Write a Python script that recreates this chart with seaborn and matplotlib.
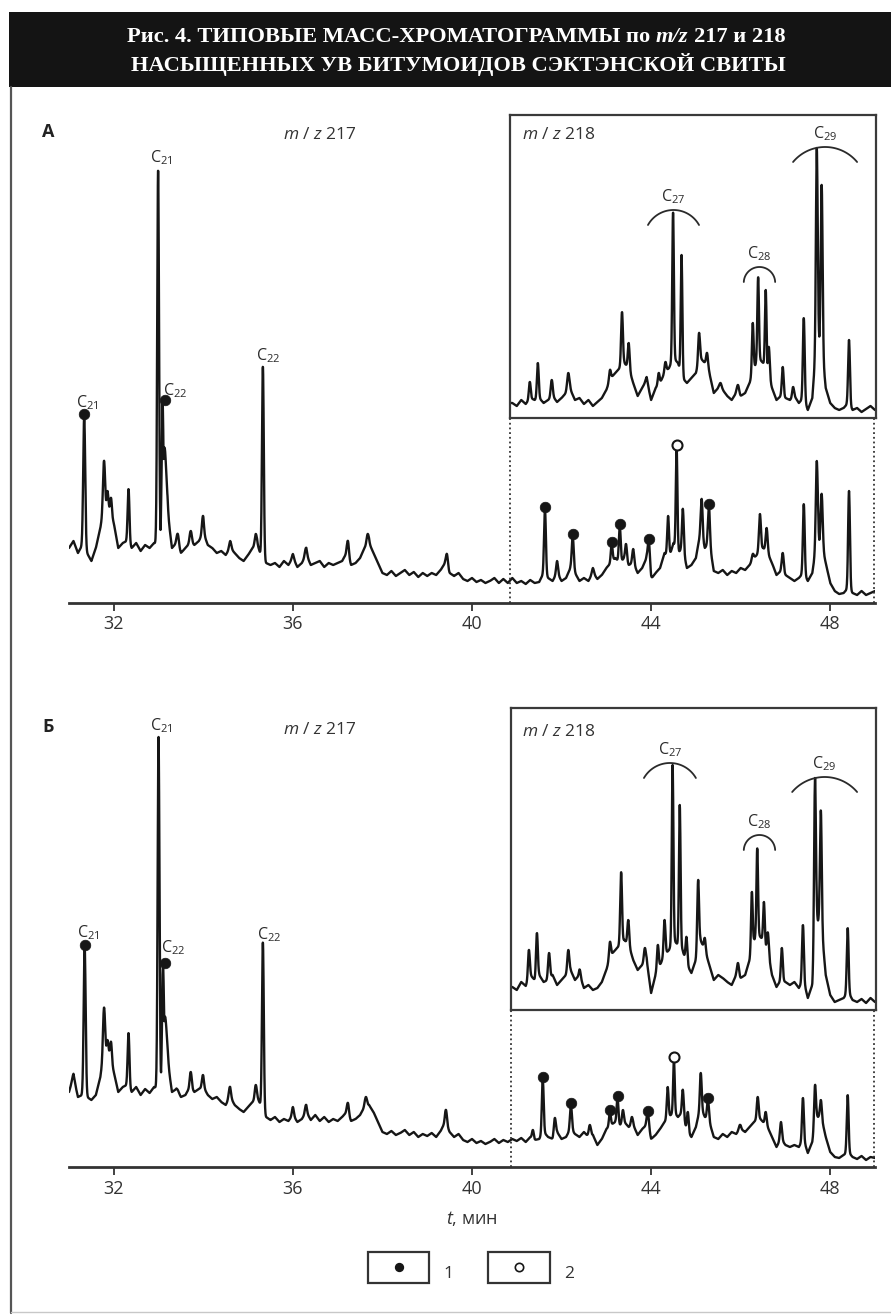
import numpy as np
import pandas as pd
import matplotlib
matplotlib.use("Agg")
import matplotlib.pyplot as plt
from matplotlib.patches import Rectangle
from matplotlib.lines import Line2D
import seaborn as sns

# ---------------------------------------------------------------- data
x_ticks = [32, 36, 40, 44, 48]
x_label = "$t$, мин"
title_1 = ["Рис. 4. ТИПОВЫЕ МАСС-ХРОМАТОГРАММЫ по", "m/z", "217 и 218"]
title_2 = "НАСЫЩЕННЫХ УВ БИТУМОИДОВ СЭКТЭНСКОЙ СВИТЫ"
panel_names = ["А", "Б"]
main_ion = "$m$ / $z$ 217"
inset_ion = "$m$ / $z$ 218"
legend_labels = ["1", "2"]

# time grids (min) on which the baseline levels were read
grid_main = np.round(np.arange(31.0, 49.0 + 1e-9, 0.1), 1)
grid_ins = np.round(np.arange(40.8, 49.0 + 1e-9, 0.1), 1)

# --- panel A, m/z 217: baseline level every 0.1 min (31.0 ... 49.0)
base_A217 = [
    55, 62, 50, 58, 50, 42, 55, 75, 100, 95,
    80, 55, 60, 62, 55, 60, 52, 58, 55, 60,
    58, 70, 90, 55, 60, 50, 55, 60, 58, 62,
    70, 58, 55, 50, 52, 48, 55, 50, 45, 42,
    48, 55, 60, 45, 40, 38, 40, 36, 42, 38,
    45, 36, 40, 48, 38, 40, 42, 36, 40, 38,
    40, 42, 50, 38, 40, 45, 55, 60, 50, 40,
    30, 28, 32, 27, 30, 33, 28, 31, 26, 30,
    27, 30, 28, 33, 40, 30, 27, 30, 24, 22,
    25, 21, 23, 20, 22, 25, 20, 24, 20, 25,
    20, 22, 19, 23, 20, 21, 30, 25, 22, 30,
    22, 25, 35, 30, 22, 25, 22, 30, 24, 28,
    35, 40, 45, 40, 45, 38, 40, 30, 35, 45,
    24, 30, 35, 50, 45, 60, 50, 55, 35, 38,
    45, 70, 55, 60, 32, 30, 33, 28, 32, 30,
    35, 33, 38, 45, 50, 55, 50, 40, 28, 32,
    28, 25, 22, 25, 30, 22, 30, 60, 60, 40,
    20, 12, 9, 10, 15, 10, 8, 12, 8, 10,
    12,
]
# peaks: (time, apex intensity, width)
peaks_A217 = [
    (31.34, 187, .022), (31.78, 142, .022), (31.86, 112, .018), (31.94, 105, .018),
    (32.33, 114, .020), (32.99, 434, .020), (33.09, 200, .020), (33.13, 155, .040),
    (33.43, 69, .025), (33.72, 72, .025), (33.99, 87, .022), (34.60, 62, .025),
    (35.17, 69, .022), (35.33, 237, .020), (36.00, 49, .025), (36.29, 55, .025),
    (37.23, 62, .022), (37.67, 69, .025), (39.44, 49, .022), (41.63, 94, .020),
    (41.90, 42, .022), (42.25, 67, .022), (42.70, 35, .025), (43.12, 59, .020),
    (43.30, 77, .020), (43.44, 59, .020), (43.60, 54, .022), (43.95, 62, .025),
    (44.38, 87, .020), (44.57, 155, .018), (44.71, 94, .020), (45.13, 104, .020),
    (45.29, 97, .022), (46.27, 49, .022), (46.43, 89, .022), (46.58, 75, .022),
    (46.94, 50, .022), (47.41, 99, .020), (47.70, 142, .022), (47.81, 109, .022),
    (48.42, 112, .020),
]
dots1_A = [(31.34, 187), (33.15, 201), (41.63, 94), (42.25, 67), (43.12, 59),
           (43.30, 77), (43.95, 62), (45.29, 97)]
dots2_A = [(44.57, 155)]
tags_A = [("21", 31.34, 187), ("21", 32.99, 434), ("22", 33.15, 201), ("22", 35.33, 237)]

# --- panel A, m/z 218 (inset): baseline every 0.1 min (40.8 ... 49.0)
base_A218 = [
    15, 15,
    12, 18, 14, 20, 18, 20, 15, 18, 22, 16,
    20, 25, 28, 18, 20, 14, 18, 12, 16, 20,
    28, 40, 45, 50, 55, 50, 35, 22, 30, 38,
    18, 30, 35, 45, 50, 60, 55, 40, 35, 40,
    45, 60, 55, 45, 25, 30, 28, 22, 18, 25,
    22, 25, 35, 50, 60, 55, 45, 30, 18, 22,
    20, 18, 22, 15, 20, 8, 20, 80, 75, 30,
    15, 10, 8, 10, 15, 8, 10, 6, 9, 12,
    8,
]
peaks_A218 = [
    (41.29, 36, .020), (41.47, 55, .020), (41.78, 38, .022), (42.15, 45, .025),
    (43.08, 48, .020), (43.35, 106, .020), (43.50, 75, .020), (43.90, 41, .025),
    (44.17, 45, .020), (44.32, 56, .020), (44.49, 206, .018), (44.68, 163, .018),
    (45.07, 85, .020), (45.25, 65, .022), (45.55, 35, .025), (45.94, 33, .025),
    (46.27, 95, .018), (46.39, 141, .018), (46.56, 128, .018), (46.63, 71, .020),
    (46.94, 51, .020), (47.17, 31, .020), (47.41, 100, .020), (47.70, 270, .020),
    (47.81, 233, .020), (48.42, 78, .020),
]
# sterane groups: (carbon number, start time, end time, apex intensity)
groups_A = [("27", 43.93, 45.07, 208), ("28", 46.07, 46.77, 151), ("29", 47.17, 48.60, 271)]

# --- panel Б, m/z 217
base_B217 = [
    75, 90, 70, 72, 70, 67, 72, 90, 120, 115,
    95, 75, 80, 82, 75, 80, 72, 78, 74, 80,
    78, 90, 105, 75, 78, 70, 72, 80, 75, 78,
    80, 72, 68, 70, 65, 62, 70, 62, 58, 55,
    60, 65, 70, 60, 50, 47, 50, 45, 48, 46,
    52, 45, 48, 55, 47, 52, 46, 50, 45, 48,
    46, 50, 55, 46, 48, 52, 60, 62, 55, 45,
    35, 33, 36, 32, 34, 37, 32, 35, 30, 33,
    31, 34, 30, 36, 45, 35, 30, 33, 27, 25,
    28, 24, 26, 23, 25, 28, 24, 27, 25, 28,
    26, 29, 25, 30, 27, 28, 35, 30, 28, 35,
    28, 30, 38, 33, 30, 35, 30, 32, 22, 28,
    38, 42, 45, 42, 45, 40, 42, 32, 38, 42,
    28, 32, 38, 45, 50, 55, 50, 55, 35, 30,
    40, 60, 50, 45, 30, 28, 33, 30, 35, 33,
    38, 35, 40, 45, 50, 45, 40, 30, 20, 28,
    22, 20, 22, 20, 28, 14, 25, 50, 50, 30,
    15, 10, 9, 12, 15, 10, 8, 11, 7, 10,
    9,
]
peaks_B217 = [
    (31.09, 92, .025), (31.35, 220, .022), (31.78, 159, .022), (31.86, 127, .018),
    (31.94, 125, .018), (32.33, 134, .020), (33.00, 430, .020), (33.10, 202, .020),
    (33.14, 150, .040), (33.43, 77, .022), (33.72, 95, .022), (33.99, 92, .022),
    (34.59, 80, .025), (35.17, 82, .022), (35.33, 225, .020), (36.00, 60, .022),
    (36.29, 62, .022), (37.23, 64, .022), (37.63, 70, .025), (39.42, 57, .022),
    (41.36, 37, .020), (41.58, 88, .020), (41.85, 49, .022), (42.21, 62, .022),
    (42.63, 42, .025), (43.08, 55, .020), (43.25, 69, .020), (43.37, 57, .020),
    (43.57, 50, .022), (43.93, 54, .025), (44.37, 80, .020), (44.51, 107, .018),
    (44.71, 77, .020), (44.82, 55, .020), (45.11, 94, .020), (45.27, 67, .022),
    (45.98, 42, .025), (46.38, 70, .020), (46.56, 55, .020), (46.90, 45, .022),
    (47.39, 69, .020), (47.66, 82, .020), (47.79, 67, .020), (48.39, 72, .020),
]
dots1_B = [(31.35, 220), (33.15, 202), (41.58, 88), (42.21, 62), (43.08, 55),
           (43.25, 69), (43.93, 54), (45.27, 67)]
dots2_B = [(44.51, 107)]
tags_B = [("21", 31.35, 220), ("21", 33.00, 430), ("22", 33.15, 202), ("22", 35.33, 225)]

# --- panel Б, m/z 218 (inset)
base_B218 = [
    23, 23,
    20, 28, 24, 35, 30, 35, 28, 30, 35, 25,
    30, 35, 40, 30, 35, 22, 25, 20, 22, 28,
    40, 55, 60, 65, 70, 65, 50, 40, 45, 50,
    17, 35, 45, 55, 60, 70, 65, 60, 45, 37,
    50, 70, 60, 45, 30, 35, 32, 28, 25, 35,
    32, 35, 50, 70, 75, 70, 60, 35, 23, 30,
    28, 25, 28, 22, 30, 12, 25, 90, 85, 35,
    15, 8, 10, 12, 18, 10, 8, 11, 7, 12,
    8,
]
peaks_B218 = [
    (41.27, 60, .020), (41.45, 77, .020), (41.72, 57, .022), (42.15, 60, .022),
    (42.41, 40, .020), (43.08, 68, .020), (43.33, 138, .020), (43.49, 90, .020),
    (43.86, 62, .022), (44.15, 65, .020), (44.30, 90, .020), (44.48, 245, .018),
    (44.64, 205, .018), (44.79, 73, .020), (45.05, 130, .020), (45.20, 72, .020),
    (45.94, 47, .022), (46.25, 118, .018), (46.37, 162, .018), (46.52, 108, .018),
    (46.61, 77, .020), (46.92, 62, .020), (47.39, 85, .020), (47.66, 232, .020),
    (47.79, 200, .020), (48.39, 82, .020),
]
groups_B = [("27", 43.84, 45.00, 247), ("28", 46.07, 46.77, 175), ("29", 47.15, 48.60, 233)]

# ---------------------------------------------------------------- style
sns.set_theme(style="white")
plt.rcParams["font.family"] = ["Open Sans", "DejaVu Sans"]
plt.rcParams["mathtext.fontset"] = "custom"
plt.rcParams["mathtext.rm"] = "Open Sans"
plt.rcParams["mathtext.it"] = "Open Sans:italic"
plt.rcParams["mathtext.bf"] = "Open Sans:bold"

INK = "#161616"
W, H = 891, 1315
fig = plt.figure(figsize=(W / 100, H / 100), dpi=100)
fig.patch.set_facecolor("white")


def px_axes(l, t, r, b):
    return fig.add_axes([l / W, 1 - b / H, (r - l) / W, (b - t) / H])


def fx(x):
    return x / W


def fy(y):
    return 1 - y / H


def build_trace(grid, base, peaks, step=0.004):
    t = np.arange(grid[0], grid[-1] + 1e-9, step)
    b = np.interp(t, grid, base)
    bump = np.zeros_like(t)
    for pt, ph, pw in peaks:
        amp = ph - np.interp(pt, grid, base)
        bump = np.maximum(bump, amp * np.exp(-0.5 * ((t - pt) / pw) ** 2))
    return pd.DataFrame({"t": t, "I": b + bump})


def draw_trace(ax, df):
    sns.lineplot(data=df, x="t", y="I", ax=ax, color=INK, linewidth=1.7,
                 estimator=None, sort=False)


def draw_dots(ax, filled, hollow):
    d1 = pd.DataFrame(filled, columns=["t", "I"])
    d2 = pd.DataFrame(hollow, columns=["t", "I"])
    d1["I"] += 2
    d2["I"] += 3
    sns.scatterplot(data=d1, x="t", y="I", ax=ax, color=INK, s=58,
                    edgecolor=INK, linewidth=0.5, zorder=5)
    sns.scatterplot(data=d2, x="t", y="I", ax=ax, facecolor="white", s=52,
                    edgecolor=INK, linewidth=1.5, zorder=5)


def draw_tags(ax, tags, offsets):
    for (sub, t, h), (dx, dy) in zip(tags, offsets):
        ax.annotate("C$_{" + sub + "}$", xy=(t, h), xytext=(dx, dy),
                    textcoords="offset pixels", ha="left", va="baseline",
                    fontsize=11.5, color="#2a2a2a")


def draw_groups(ax, groups, px_per_min, sag=15):
    for sub, t0, t1, apex in groups:
        a = (t1 - t0) / 2 * px_per_min
        R = (a * a + sag * sag) / (2 * sag)
        th = np.arcsin(min(a / R, 1.0))
        phi = np.linspace(-th, th, 60)
        tc = (t0 + t1) / 2
        ax.plot(tc + R * np.sin(phi) / px_per_min, apex - R + R * np.cos(phi),
                color="#2a2a2a", lw=1.3)
        ax.annotate("C$_{" + sub + "}$", xy=(tc, apex), xytext=(0, 9),
                    textcoords="offset pixels", ha="center", va="baseline",
                    fontsize=11.5, color="#2a2a2a")


def style_main(ax, ytop):
    ax.set_xlim(31.0, 49.0)
    ax.set_ylim(0, ytop)
    ax.set_facecolor("none")
    for s in ["left", "right", "top"]:
        ax.spines[s].set_visible(False)
    ax.spines["bottom"].set_linewidth(2.0)
    ax.spines["bottom"].set_color("#333333")
    ax.set_yticks([])
    ax.set_xticks(x_ticks)
    ax.set_xticklabels([str(v) for v in x_ticks])
    ax.tick_params(axis="x", direction="out", length=6, width=1.3, color="#333333",
                   pad=3, labelsize=13, labelcolor="#333333", bottom=True)
    ax.set_xlabel("")
    ax.set_ylabel("")


def style_inset(ax, xl, ytop):
    ax.set_xlim(*xl)
    ax.set_ylim(0, ytop)
    ax.set_facecolor("white")
    ax.set_xticks([])
    ax.set_yticks([])
    for s in ax.spines.values():
        s.set_visible(True)
        s.set_linewidth(1.6)
        s.set_color("#3a3a3a")
    ax.set_xlabel("")
    ax.set_ylabel("")


PXPM = (875 - 69) / 18.0  # pixels per minute on the time axis

# ---------------------------------------------------------------- panel A
axA = px_axes(69, 115, 875, 603)
draw_trace(axA, build_trace(grid_main, base_A217, peaks_A217))
draw_dots(axA, dots1_A, dots2_A)
draw_tags(axA, tags_A, [(-8, 9), (-8, 7), (-2, 7), (-7, 6)])
style_main(axA, 488)
xlA = (31 + (510 - 69) / PXPM, 31 + (876 - 69) / PXPM)
axA.vlines([xlA[0] + 0.01, 48.98], 0, 603 - 418, colors="#333333", lw=1.3,
           linestyles=(0, (1, 1.6)))

insA = px_axes(510, 115, 876, 418)
draw_trace(insA, build_trace(grid_ins, base_A218, peaks_A218))
draw_groups(insA, groups_A, PXPM)
style_inset(insA, xlA, 303)

# ---------------------------------------------------------------- panel Б
axB = px_axes(69, 700, 875, 1167)
draw_trace(axB, build_trace(grid_main, base_B217, peaks_B217))
draw_dots(axB, dots1_B, dots2_B)
draw_tags(axB, tags_B, [(-8, 10), (-9, 7), (-4, 13), (-6, 3)])
style_main(axB, 467)
xlB = (31 + (511 - 69) / PXPM, 31 + (876 - 69) / PXPM)
axB.vlines([xlB[0] + 0.01, 48.98], 0, 1167 - 1010, colors="#333333", lw=1.3,
           linestyles=(0, (1, 1.6)))

insB = px_axes(511, 708, 876, 1010)
draw_trace(insB, build_trace(grid_ins, base_B218, peaks_B218))
draw_groups(insB, groups_B, PXPM)
style_inset(insB, xlB, 302)

# ---------------------------------------------------------------- texts
for name, y in zip(panel_names, [132, 727]):
    fig.text(fx(42), fy(y), name, fontsize=13, fontweight="bold", color="#222222",
             ha="left", va="center")
for y in [135, 730]:
    fig.text(fx(283), fy(y), main_ion, fontsize=12.5, color="#333333",
             ha="left", va="center")
for y in [135, 732]:
    fig.text(fx(522), fy(y), inset_ion, fontsize=12.5, color="#333333",
             ha="left", va="center")
fig.text(fx(472), fy(1218), x_label, fontsize=13, color="#333333",
         ha="center", va="center")

# ---------------------------------------------------------------- legend
for (x0, x1), lab, filled in zip([(368, 429), (488, 550)], legend_labels, [True, False]):
    fig.add_artist(Rectangle((fx(x0), fy(1283)), (x1 - x0) / W, 31 / H,
                             transform=fig.transFigure, facecolor="white",
                             edgecolor="#333333", lw=1.6))
    fig.add_artist(Line2D([fx((x0 + x1) / 2)], [fy(1267)], transform=fig.transFigure,
                          marker="o", markersize=5.5 if filled else 6,
                          markerfacecolor=INK if filled else "white",
                          markeredgecolor=INK, markeredgewidth=1.2, linestyle="none"))
    fig.text(fx(x1 + 19), fy(1274), lab, fontsize=12.5, color="#333333",
             ha="center", va="center")

# ---------------------------------------------------------------- frame & title
fig.add_artist(Rectangle((fx(9), fy(87)), 882 / W, 75 / H, transform=fig.transFigure,
                         facecolor="#141414", edgecolor="none"))
fig.add_artist(Line2D([fx(11), fx(11)], [fy(87), fy(1313)], transform=fig.transFigure,
                      color="#555555", lw=1.6))
fig.add_artist(Line2D([fx(11), fx(891)], [fy(1312), fy(1312)], transform=fig.transFigure,
                      color="#c8c8c8", lw=1.0))

tkw = dict(family=["Liberation Serif", "DejaVu Serif"], fontweight="bold",
           color="white", fontsize=16.2, va="center", ha="left")
parts = [fig.text(0, fy(37), title_1[0], **tkw),
         fig.text(0, fy(37), title_1[1], style="italic", **tkw),
         fig.text(0, fy(37), title_1[2], **tkw)]
renderer = fig.canvas.get_renderer()
widths = [p.get_window_extent(renderer).width for p in parts]
gap = 5.5
total = sum(widths) + gap * (len(parts) - 1)
x = 456 - total / 2
for p, w in zip(parts, widths):
    p.set_x(fx(x))
    x += w + gap
fig.text(fx(458), fy(64), title_2, **{**tkw, "ha": "center"})

fig.savefig("out.png", dpi=100, facecolor="white")
